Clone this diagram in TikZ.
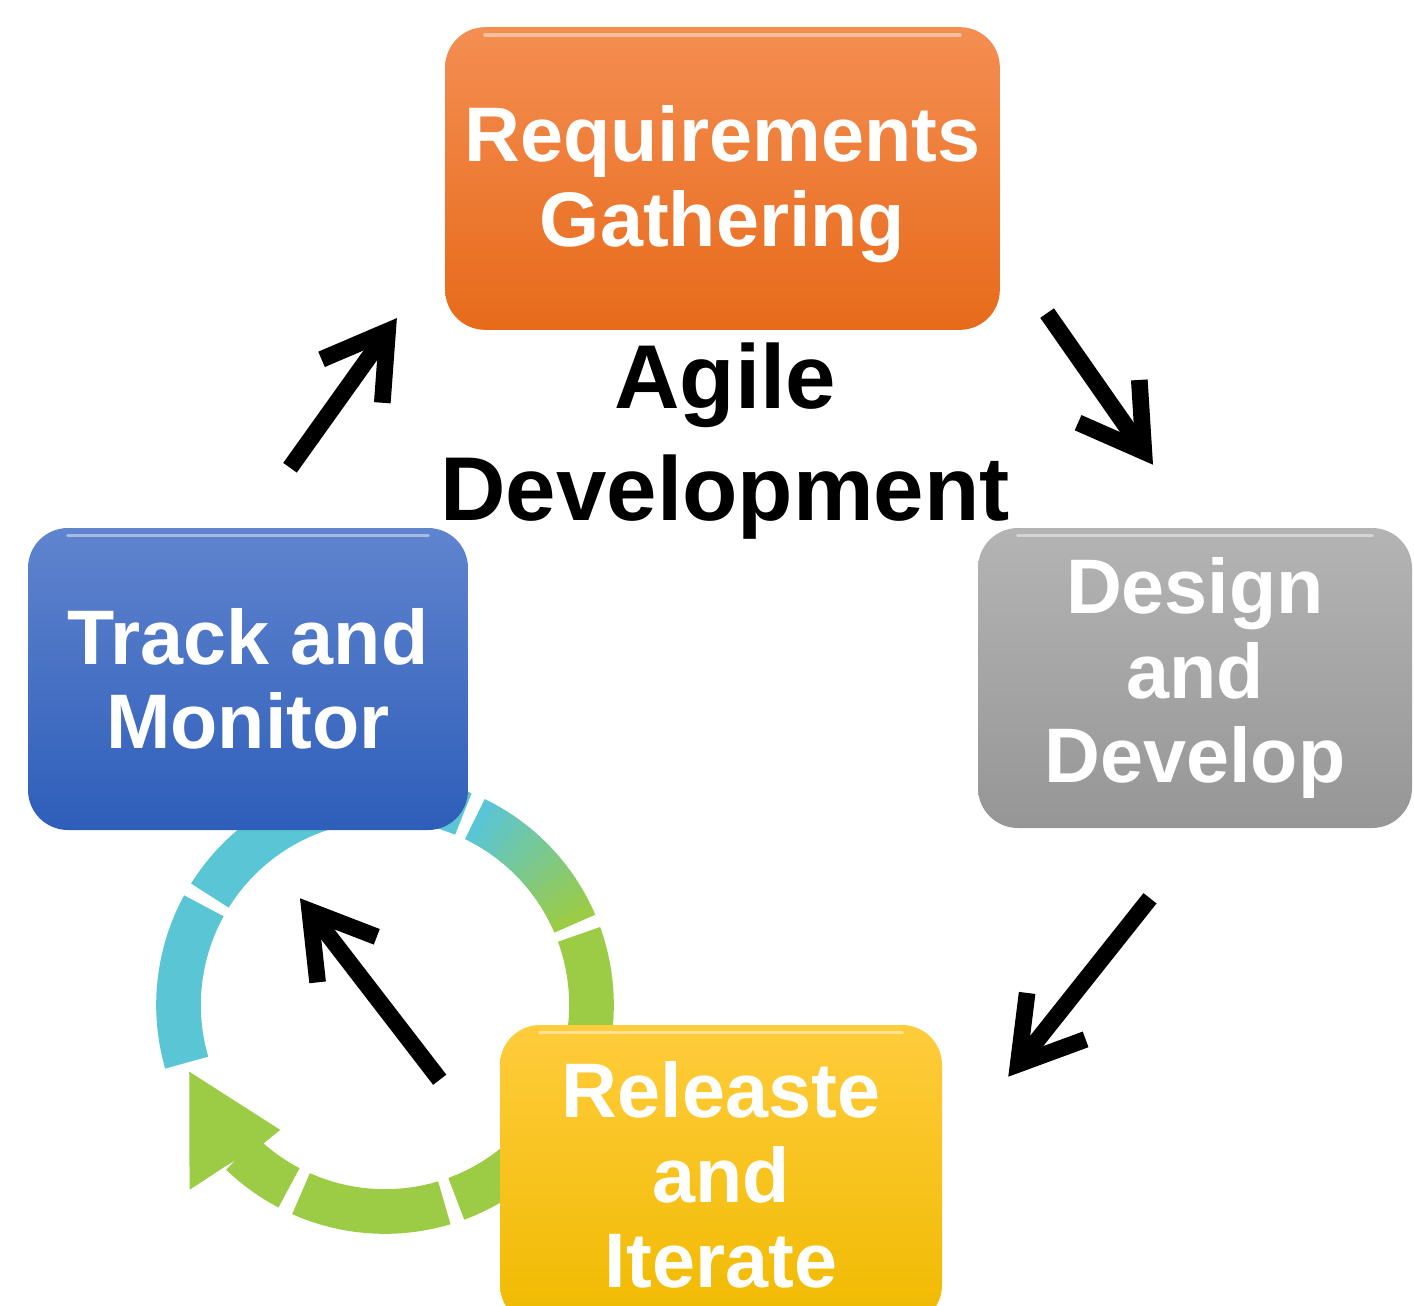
\documentclass[tikz,border=0pt]{standalone}
\usepackage{fontspec}
\setmainfont{Liberation Sans}
\usetikzlibrary{arrows.meta,calc}

\definecolor{reqtop}{RGB}{244,142,82}
\definecolor{reqbot}{RGB}{231,106,26}
\definecolor{destop}{RGB}{180,180,180}
\definecolor{desbot}{RGB}{150,150,150}
\definecolor{trktop}{RGB}{96,132,206}
\definecolor{trkbot}{RGB}{46,94,186}
\definecolor{reltop}{RGB}{255,204,60}
\definecolor{relbot}{RGB}{240,186,0}
\definecolor{ringcyan}{RGB}{90,197,212}
\definecolor{ringgreen}{RGB}{156,204,70}

\tikzset{
  stage/.style={rounded corners=30pt, text=white, align=center, inner sep=0pt,
    font=\fontsize{58}{63.5}\selectfont\bfseries},
  flow/.style={line width=12.5pt, -{Straight Barb[length=46pt,width=56pt]}},
  ring/.style={line width=33.5pt},
  gloss/.style={white, opacity=0.45, line width=2.5pt, line cap=round},
}

\begin{document}
\begin{tikzpicture}[x=0.75pt,y=0.75pt,yscale=-1,xscale=1]
\useasboundingbox (0,0) rectangle (1414,1306);

% cycle icon behind the boxes
\begin{scope}[shift={(385,1005)},yscale=-1]
\draw[ring, ringgreen] (226:206.5) arc[start angle=226, end angle=242.3, radius=206.5];
\fill[ringgreen] (198.8:206.8) -- (223.4:269) -- (225.3:227) -- (228.6:186.6) -- (230:163) -- cycle;
\draw[ring, ringgreen] (246:206.5) arc[start angle=246, end angle=286.7, radius=206.5];
\draw[ring, ringgreen] (290.2:206.5) arc[start angle=290.2, end angle=330, radius=206.5];
\draw[ring, ringgreen] (333:206.5) arc[start angle=333, end angle=380, radius=206.5];
\foreach \k in {0,...,11}{
  \pgfmathsetmacro\mix{100-\k*100/11}
  \pgfmathsetmacro\sa{23.2+\k*41/12}
  \pgfmathsetmacro\ea{min(\sa+41/12+0.4,64.2)}
  \draw[ring, draw=ringgreen!\mix!ringcyan] (\sa:206.5) arc[start angle=\sa, end angle=\ea, radius=206.5];
}
\draw[ring, ringcyan] (67.7:206.5) arc[start angle=67.7, end angle=148, radius=206.5];
\draw[ring, ringcyan] (151.3:206.5) arc[start angle=151.3, end angle=196.2, radius=206.5];
\end{scope}

% stages
\node[stage, minimum width=416pt, minimum height=227pt, top color=reqtop, bottom color=reqbot, text depth=4pt] (req) at (722.5,178.5) {Requirements\\Gathering};
\node[stage, minimum width=325.5pt, minimum height=225pt, top color=destop, bottom color=desbot] (design) at (1195,678) {Design\\and\\Develop};
\node[stage, minimum width=330pt, minimum height=226.5pt, top color=trktop, bottom color=trkbot] (track) at (248,679) {Track and\\Monitor};
\node[stage, minimum width=331.5pt, minimum height=225pt, top color=reltop, bottom color=relbot] (release) at (721,1175) {Releaste\\and\\Iterate};

\foreach \n in {req,design,track,release}{
  \draw[gloss] ($(\n.north west)+(40,8)$) -- ($(\n.north east)+(-40,8)$);
}

% title
\node[font=\fontsize{68}{84}\selectfont\bfseries, align=center, inner sep=0pt] (title) at (725,441) {Agile\\Development};

% arrows
\coordinate (a1s) at ($(req.south east)+(47,-17)$);
\coordinate (a1e) at ($(design.north)+(-42,-63)$);
\coordinate (a2s) at ($(design.south)+(-45,70)$);
\coordinate (a2e) at ($(release.north east)+(66,52)$);
\coordinate (a3s) at ($(release.north west)+(-60,55)$);
\coordinate (a3e) at ($(track.south)+(52,68)$);
\coordinate (a4s) at ($(track.north)+(42,-60)$);
\coordinate (a4e) at ($(req.south west)+(-48,-12)$);
\draw[flow] (a1s) -- (a1e);
\draw[flow] (a2s) -- (a2e);
\draw[flow] (a3s) -- (a3e);
\draw[flow] (a4s) -- (a4e);

\end{tikzpicture}
\end{document}
